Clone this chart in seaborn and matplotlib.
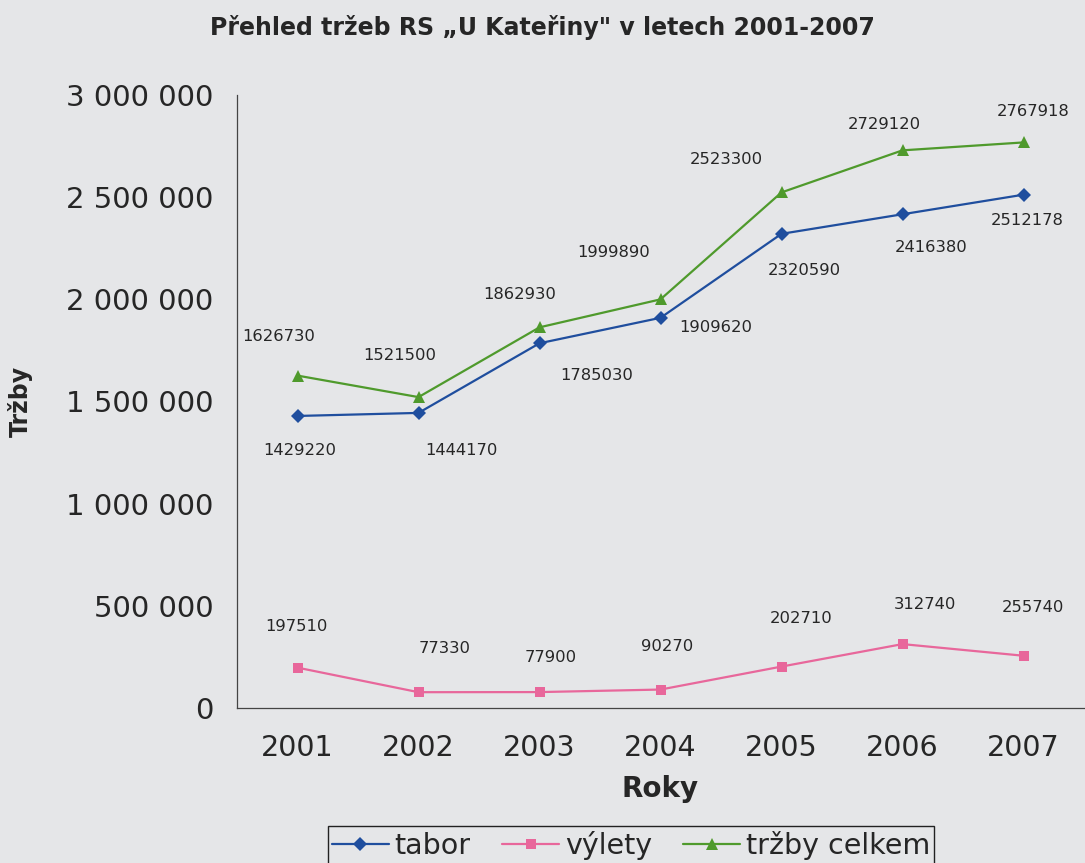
import matplotlib
matplotlib.use("Agg")
import matplotlib.pyplot as plt
import matplotlib.ticker as mticker
import seaborn as sns
import pandas as pd

# Data
years = [2001, 2002, 2003, 2004, 2005, 2006, 2007]
tabor = [1429220, 1444170, 1785030, 1909620, 2320590, 2416380, 2512178]
vylety = [197510, 77330, 77900, 90270, 202710, 312740, 255740]
celkem = [1626730, 1521500, 1862930, 1999890, 2523300, 2729120, 2767918]
series_names = ["tabor", "výlety", "tržby celkem"]

# Label offsets (pixels, y up) for the value annotations
off_tabor = [(2, -35), (43, -38), (57, -32), (55, -10), (23, -37), (29, -33), (4, -26)]
off_vylety = [(-1, 41), (26, 44), (11, 35), (7, 43), (20, 48), (22, 40), (9, 48)]
off_celkem = [(-19, 39), (-19, 42), (-20, 33), (-47, 47), (-55, 33), (-18, 26), (10, 31)]

bg = "#e5e6e8"
sns.set_theme(style="white", rc={"axes.facecolor": bg, "figure.facecolor": bg})
plt.rcParams["font.family"] = ["DejaVu Sans"]

df = pd.DataFrame({"Rok": years, series_names[0]: tabor,
                   series_names[1]: vylety, series_names[2]: celkem})
long = df.melt(id_vars="Rok", var_name="Řada", value_name="Tržby")

palette = {"tabor": "#1f4e9e", "výlety": "#e8679b", "tržby celkem": "#4f9a2c"}
markers = {"tabor": "D", "výlety": "s", "tržby celkem": "^"}

fig = plt.figure(figsize=(10.85, 8.63), dpi=100)
ax = fig.add_axes([237 / 1085, 1 - 708 / 863, 847 / 1085, 613 / 863])

sns.lineplot(data=long, x="Rok", y="Tržby", hue="Řada", style="Řada",
             palette=palette, markers=markers, dashes=False, linewidth=1.6,
             markersize=7.5, markeredgewidth=0, ax=ax, legend=True)
for line in ax.lines:
    if line.get_marker() == "^":
        line.set_markersize(9)
    elif line.get_marker() == "D":
        line.set_markersize(7)

# Value annotations
for vals, offs, in [(tabor, off_tabor), (vylety, off_vylety), (celkem, off_celkem)]:
    for x, v, (dx, dy) in zip(years, vals, offs):
        ax.annotate(str(v), (x, v), xytext=(dx * 0.72, dy * 0.72),
                    textcoords="offset points", ha="center", va="center",
                    fontsize=11.8, color="#262626")

ax.set_xlim(years[0] - 0.5, years[-1] + 0.5)
ax.set_ylim(0, 3000000)
ax.yaxis.set_major_locator(mticker.MultipleLocator(500000))
ax.yaxis.set_major_formatter(mticker.FuncFormatter(
    lambda v, p: f"{int(v):,}".replace(",", " ")))
ax.set_xticks(years)
ax.set_xticklabels([str(y) for y in years])
ax.set_xticks([y - 0.5 for y in years] + [years[-1] + 0.5], minor=True)
ax.tick_params(axis="x", which="major", length=0, pad=19, labelsize=20.5, colors="#262626")
ax.tick_params(axis="x", which="minor", length=7, width=0.9, color="#444444", direction="out")
ax.tick_params(axis="y", which="major", length=7, width=0.9, color="#444444",
               direction="out", labelsize=21, labelcolor="#262626", pad=10)

for s in ["top", "right"]:
    ax.spines[s].set_visible(False)
for s in ["left", "bottom"]:
    ax.spines[s].set_color("#444444")
    ax.spines[s].set_linewidth(0.9)

ax.set_xlabel("Roky", fontsize=20, fontweight="bold", labelpad=9, color="#262626")
ax.set_ylabel("Tržby", fontsize=17, fontweight="bold", labelpad=24, color="#262626")

fig.suptitle("Přehled tržeb RS „U Kateřiny\" v letech 2001-2007",
             x=0.5, y=0.983, fontsize=17, fontweight="bold", color="#262626")

handles, labels = ax.get_legend_handles_labels()
ax.legend_.remove()
leg = fig.legend(handles, labels, loc="center", bbox_to_anchor=(631 / 1085, 1 - 845 / 863),
                 ncol=3, fontsize=20.5, frameon=True, fancybox=False, framealpha=1,
                 edgecolor="#222222", facecolor=bg, handlelength=2.0,
                 handletextpad=0.2, columnspacing=1.1, borderpad=0.15,
                 borderaxespad=0)
leg.get_frame().set_linewidth(1.0)

fig.savefig("out.png", dpi=100, facecolor=bg)
